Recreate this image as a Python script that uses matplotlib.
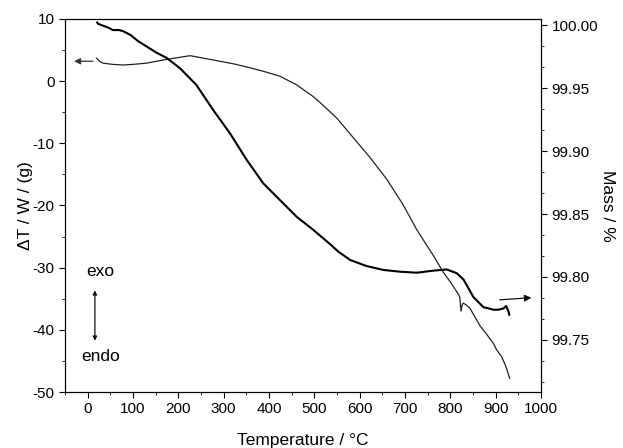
import matplotlib
matplotlib.use("Agg")
import matplotlib.pyplot as plt
from matplotlib.ticker import MultipleLocator, AutoMinorLocator, FormatStrFormatter

plt.rcParams['font.family'] = ['Liberation Sans', 'DejaVu Sans']
plt.rcParams['axes.unicode_minus'] = False

# DTA curve (left axis)
dta_temp = [20, 26, 34, 55, 78, 100, 130, 152, 174, 200, 226, 270, 321, 350, 387, 424,
            461, 498, 512, 549, 586, 623, 660, 696, 726, 762, 785, 800, 810, 818, 821, 823.5,
            826, 828.6, 835, 843, 865, 880, 895, 902, 913, 922, 931]
dta_val = [3.7, 3.2, 2.9, 2.7, 2.6, 2.7, 2.9, 3.2, 3.5, 3.8, 4.1, 3.5, 2.8, 2.3, 1.6, 0.8,
           -0.6, -2.5, -3.4, -5.9, -9.1, -12.3, -15.8, -19.9, -23.9, -28.0, -30.8, -32.3,
           -33.4, -34.3, -34.8, -37.0, -36.0, -35.7, -36.0, -36.5, -39.3, -40.7, -42.2, -43.2,
           -44.3, -45.8, -47.8]

# TG curve (right axis)
tg_temp = [21, 23, 30, 45, 56, 70, 79, 95, 112, 130, 152, 174, 204, 240, 277, 314, 351,
           387, 424, 461, 498, 535, 553, 579, 615, 652, 689, 726, 762, 792, 814, 829, 840,
           851, 862, 873, 885, 895, 905, 917, 923, 928, 930]
tg_val = [100.002, 100.001, 100.000, 99.998, 99.996, 99.996, 99.995, 99.992, 99.987, 99.983,
          99.978, 99.974, 99.9656, 99.9524, 99.9325, 99.9140, 99.8929, 99.8745, 99.8611,
          99.8478, 99.8373, 99.8260, 99.8201, 99.8135, 99.8087, 99.8056, 99.8042, 99.8034,
          99.8050, 99.8060, 99.8030, 99.7980, 99.7910, 99.7840, 99.7800, 99.7760, 99.7750,
          99.7740, 99.7740, 99.7750, 99.7770, 99.7730, 99.7700]

fig = plt.figure(figsize=(6.23, 4.48), dpi=100)
ax = fig.add_axes([0.1043, 0.125, 0.7641, 0.8326])
ax.plot(dta_temp, dta_val, color='#222222', lw=0.9)
ax.set_xlim(-50, 1000)
ax.set_ylim(-50, 10)
ax.xaxis.set_major_locator(MultipleLocator(100))
ax.xaxis.set_minor_locator(MultipleLocator(50))
ax.yaxis.set_major_locator(MultipleLocator(10))
ax.yaxis.set_minor_locator(MultipleLocator(5))
ax.tick_params(which='both', direction='out', labelsize=11, top=False, right=False)
ax.tick_params(which='major', length=4)
ax.tick_params(which='minor', length=2.5)
ax.set_xlabel('Temperature / °C', fontsize=12.5, labelpad=12)
ax.set_ylabel('ΔT / W / (g)', fontsize=12.5, labelpad=0)

ax2 = ax.twinx()
ax2.plot(tg_temp, tg_val, color='black', lw=1.5)
ax2.set_ylim(99.7087, 100.0048)
ax2.yaxis.set_major_locator(MultipleLocator(0.05))
ax2.yaxis.set_minor_locator(AutoMinorLocator(3))
ax2.yaxis.set_major_formatter(FormatStrFormatter('%.2f'))
ax2.tick_params(which='both', direction='out', labelsize=11)
ax2.tick_params(which='major', length=4)
ax2.tick_params(which='minor', length=2.5)
ax2.set_ylabel('Mass / %', fontsize=12.5, rotation=270, labelpad=12)

# annotation arrows (left-axis data coords)
ax.annotate('', xy=(-36, 3.2), xytext=(18, 3.2),
            arrowprops=dict(arrowstyle='-|>', color='#333333', lw=0.9, mutation_scale=9))
ax.annotate('', xy=(985, -34.8), xytext=(903, -35.2),
            arrowprops=dict(arrowstyle='-|>', color='#111111', lw=0.9, mutation_scale=10))
ax.annotate('', xy=(16, -33.2), xytext=(16, -42.2),
            arrowprops=dict(arrowstyle='<|-|>', color='#111111', lw=0.9, mutation_scale=6))
ax.text(29, -30.6, 'exo', ha='center', va='center', fontsize=12.5)
ax.text(29, -44.3, 'endo', ha='center', va='center', fontsize=12.5)

fig.savefig('out.png', dpi=100)
